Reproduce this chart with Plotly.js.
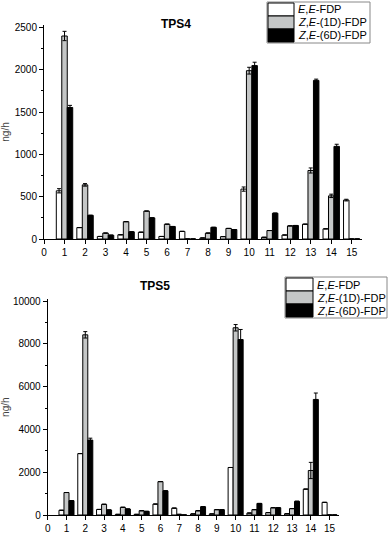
<!DOCTYPE html>
<html>
<head>
<meta charset="utf-8">
<script src="https://cdn.plot.ly/plotly-3.0.1.min.js"></script>
<style>
  html, body { margin: 0; padding: 0; background: #fff; }
  #plot { width: 391px; height: 533px; }
</style>
</head>
<body>
<div id="plot"></div>
<script>
// positions 1..15 on both panels
var positions = [1, 2, 3, 4, 5, 6, 7, 8, 9, 10, 11, 12, 13, 14, 15];
var seriesNames = ["<i>E</i>,<i>E</i>-FDP", "<i>Z</i>,<i>E</i>-(1D)-FDP", "<i>Z</i>,<i>E</i>-(6D)-FDP"];
var seriesColors = ["#ffffff", "#c4c6c6", "#000000"];

// TPS4 (ng/h)
var tps4EE   = [570, 135, 30, 50, 80, 30, 90, 12, 28, 590, 20, 47, 175, 120, 460];
var tps4Z1D  = [2400, 640, 70, 205, 330, 175, 0, 70, 125, 1990, 100, 155, 810, 510, 0];
var tps4Z6D  = [1555, 280, 45, 85, 250, 148, 0, 138, 112, 2050, 305, 160, 1875, 1095, 0];
var tps4EEerr  = [25, 0, 0, 0, 0, 0, 0, 0, 0, 25, 0, 0, 0, 0, 10];
var tps4Z1Derr = [55, 15, 0, 0, 0, 0, 0, 0, 0, 40, 0, 0, 30, 20, 0];
var tps4Z6Derr = [25, 0, 0, 0, 0, 0, 0, 0, 0, 40, 0, 0, 15, 25, 0];

// TPS5 (ng/h)
var tps5EE   = [220, 2870, 260, 30, 30, 510, 320, 50, 50, 2220, 90, 110, 60, 1210, 590];
var tps5Z1D  = [1050, 8420, 500, 360, 200, 1560, 30, 200, 250, 8750, 250, 340, 300, 2080, 0];
var tps5Z6D  = [670, 3500, 235, 280, 170, 1130, 0, 390, 250, 8200, 540, 340, 640, 5400, 0];
var tps5EEerr  = [0, 0, 0, 0, 0, 0, 0, 0, 0, 0, 0, 0, 0, 0, 0];
var tps5Z1Derr = [0, 150, 0, 0, 0, 0, 0, 0, 0, 150, 0, 0, 0, 380, 0];
var tps5Z6Derr = [0, 90, 0, 0, 0, 0, 0, 0, 0, 470, 0, 0, 0, 300, 0];

function bar(y, err, i, xa, ya) {
  return {
    x: positions, y: y, type: "bar", name: seriesNames[i],
    xaxis: xa, yaxis: ya, offsetgroup: String(i), showlegend: false,
    marker: {color: seriesColors[i], line: {color: "#000", width: 1}},
    error_y: {type: "data", array: err, visible: true, color: "#000", thickness: 1, width: 2}
  };
}

var data = [
  bar(tps4EE, tps4EEerr, 0, "x", "y"),
  bar(tps4Z1D, tps4Z1Derr, 1, "x", "y"),
  bar(tps4Z6D, tps4Z6Derr, 2, "x", "y"),
  bar(tps5EE, tps5EEerr, 0, "x2", "y2"),
  bar(tps5Z1D, tps5Z1Derr, 1, "x2", "y2"),
  bar(tps5Z6D, tps5Z6Derr, 2, "x2", "y2")
];

var fam = "Liberation Sans, Arial, sans-serif";
var tickFont = {family: fam, size: 10, color: "#000"};

function xax(domain, anchor) {
  return {
    domain: domain, anchor: anchor, range: [0, 15.5], dtick: 1, tick0: 0,
    showline: true, linecolor: "#000", linewidth: 1, showgrid: false, zeroline: false,
    ticks: "outside", ticklen: 4, tickcolor: "#000", tickfont: tickFont, fixedrange: true
  };
}
function yax(domain, anchor, range, dtick) {
  return {
    domain: domain, anchor: anchor, range: range, dtick: dtick, tickformat: "d",
    showline: true, linecolor: "#000", linewidth: 1, showgrid: false, zeroline: false,
    ticks: "outside", ticklen: 4, tickcolor: "#000", tickfont: tickFont,
    minor: {dtick: dtick / 2, ticks: "outside", ticklen: 2, tickcolor: "#000"},
    title: {text: "ng/h", font: {family: fam, size: 10}, standoff: 3}
  };
}

// manual legend boxes like the original figure
function legend(x0, y0, w, sw, rowH) {
  var shapes = [{type: "rect", xref: "paper", yref: "paper",
    x0: x0 / 391, x1: (x0 + w) / 391, y0: 1 - (y0 + 3 * rowH + 1) / 533, y1: 1 - (y0 - 1) / 533,
    line: {color: "#888", width: 1}, fillcolor: "rgba(0,0,0,0)"}];
  var ann = [];
  for (var i = 0; i < 3; i++) {
    shapes.push({type: "rect", xref: "paper", yref: "paper",
      x0: (x0 + 1) / 391, x1: (x0 + 1 + sw) / 391,
      y0: 1 - (y0 + (i + 1) * rowH) / 533, y1: 1 - (y0 + i * rowH) / 533,
      line: {color: "#000", width: 1}, fillcolor: seriesColors[i]});
    ann.push({xref: "paper", yref: "paper", x: (x0 + sw + 3) / 391, y: 1 - (y0 + (i + 0.5) * rowH) / 533,
      text: seriesNames[i], showarrow: false, xanchor: "left", yanchor: "middle",
      font: {family: fam, size: 11, color: "#000"}});
  }
  return {shapes: shapes, ann: ann};
}
var lg1 = legend(267, 3, 103, 26, 13);
var lg2 = legend(285, 278, 102, 27, 13);

var layout = {
  width: 391, height: 533,
  margin: {l: 0, r: 0, t: 0, b: 0},
  paper_bgcolor: "#fff", plot_bgcolor: "#fff",
  barmode: "group", bargap: 0.2, bargroupgap: 0,
  xaxis: xax([44 / 391, 362 / 391], "y"),
  yaxis: yax([1 - 239 / 533, 1 - 25 / 533], "x", [0, 2530], 500),
  xaxis2: xax([47.7 / 391, 339 / 391], "y2"),
  yaxis2: yax([1 - 515 / 533, 1 - 299.3 / 533], "x2", [0, 10080], 2000),
  shapes: lg1.shapes.concat(lg2.shapes),
  annotations: [
    {xref: "paper", yref: "paper", x: 176 / 391, y: 1 - 15 / 533, text: "<b>TPS4</b>", showarrow: false,
      font: {family: fam, size: 12, color: "#000"}},
    {xref: "paper", yref: "paper", x: 155 / 391, y: 1 - 286 / 533, text: "<b>TPS5</b>", showarrow: false,
      font: {family: fam, size: 12, color: "#000"}}
  ].concat(lg1.ann, lg2.ann),
  showlegend: false
};

Plotly.newPlot("plot", data, layout, {staticPlot: true});
</script>
</body>
</html>
